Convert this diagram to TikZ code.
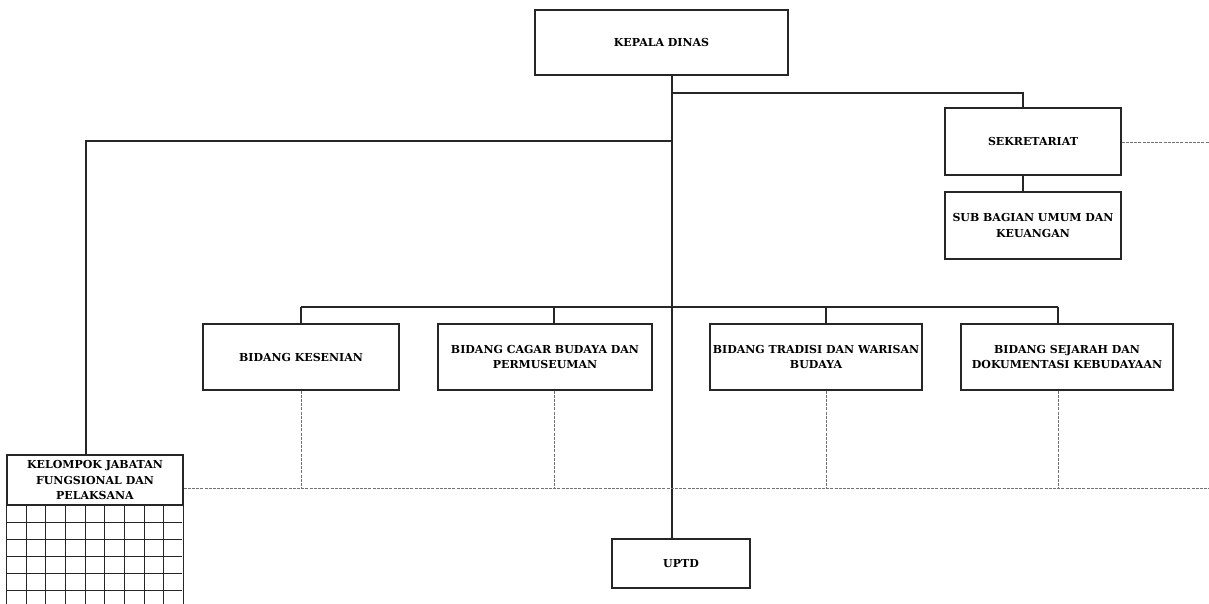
\documentclass[tikz,border=0pt]{standalone}
\usepackage{tikz}
\usepackage{fontspec}
\setmainfont{DejaVu Serif}
\usetikzlibrary{calc}

\begin{document}
\begin{tikzpicture}[x=1pt,y=-1pt,
    every node/.style={draw=black!85, line width=1.2pt, shape=rectangle, align=center, inner sep=1pt, font=\fontsize{11}{15.5}\selectfont\bfseries},
    link/.style={draw=black!85, line width=1.2pt},
    dotline/.style={draw=black!55, line width=.6pt, dash pattern=on 3pt off 1.2pt}]
    \useasboundingbox (0,0) rectangle (1209,604);
    \draw (661.5,42.5) node[minimum width=253, minimum height=65] (kepala) {KEPALA DINAS};
    \draw (1033,141.5) node[minimum width=176, minimum height=67] (sek) {SEKRETARIAT};
    \draw (1033,225.5) node[minimum width=176, minimum height=67] (sub) {SUB BAGIAN UMUM DAN\\KEUANGAN};
    \draw (301,357) node[minimum width=196, minimum height=66] (b1) {BIDANG KESENIAN};
    \draw (545,357) node[minimum width=214, minimum height=66] (b2) {BIDANG CAGAR BUDAYA DAN\\PERMUSEUMAN};
    \draw (816,357) node[minimum width=212, minimum height=66] (b3) {BIDANG TRADISI DAN WARISAN\\BUDAYA};
    \draw (1067,357) node[minimum width=212, minimum height=66] (b4) {BIDANG SEJARAH DAN\\DOKUMENTASI KEBUDAYAAN};
    \draw (95,480) node[minimum width=176, minimum height=50, inner sep=0pt] (kel) {KELOMPOK JABATAN\\FUNGSIONAL DAN\\PELAKSANA};
    \draw (681,563.5) node[minimum width=138, minimum height=49] (uptd) {UPTD};
    \coordinate (tk) at (672,0);
    \coordinate (s1) at (301,307);
    \coordinate (s2) at (554,307);
    \coordinate (s3) at (826,307);
    \coordinate (s4) at (1058,307);
    \coordinate (dl) at (1209,488);
    \coordinate (ds) at (1209,142);
    \draw [link] (kepala.south -| tk) -- (uptd.north -| tk);
    \draw [link] (tk |- 0,93) -| ([xshift=-10]sek.north);
    \draw [link] ([xshift=-10]sek.south) -- ([xshift=-10]sub.north);
    \draw [link] (tk |- 0,141) -| ([xshift=-9]kel.north);
    \draw [link] (s1) -- (s4);
    \foreach \i in {1,...,4} {
        \draw [link] (s\i) -- (b\i.north -| s\i);
        \draw [dotline] (b\i.south -| s\i) -- (s\i |- dl);
    }
    \draw [dotline] (kel.east |- dl) -- (dl);
    \draw [dotline] (sek.east |- ds) -- (ds);
    \foreach \c in {1,...,8}
        \draw [link, line width=.9pt] ($(kel.south west)!\c/9!(kel.south east)$) -- ++(0,100);
    \foreach \r in {1,...,5}
        \draw [link, line width=.9pt] ($(kel.south west)+(0,17*\r)$) -- ++(176,0);
    \draw [link, line width=.9pt] (kel.south west) -- ++(0,100);
    \draw [link, line width=.9pt] (kel.south east) -- ++(0,100);
\end{tikzpicture}
\end{document}
